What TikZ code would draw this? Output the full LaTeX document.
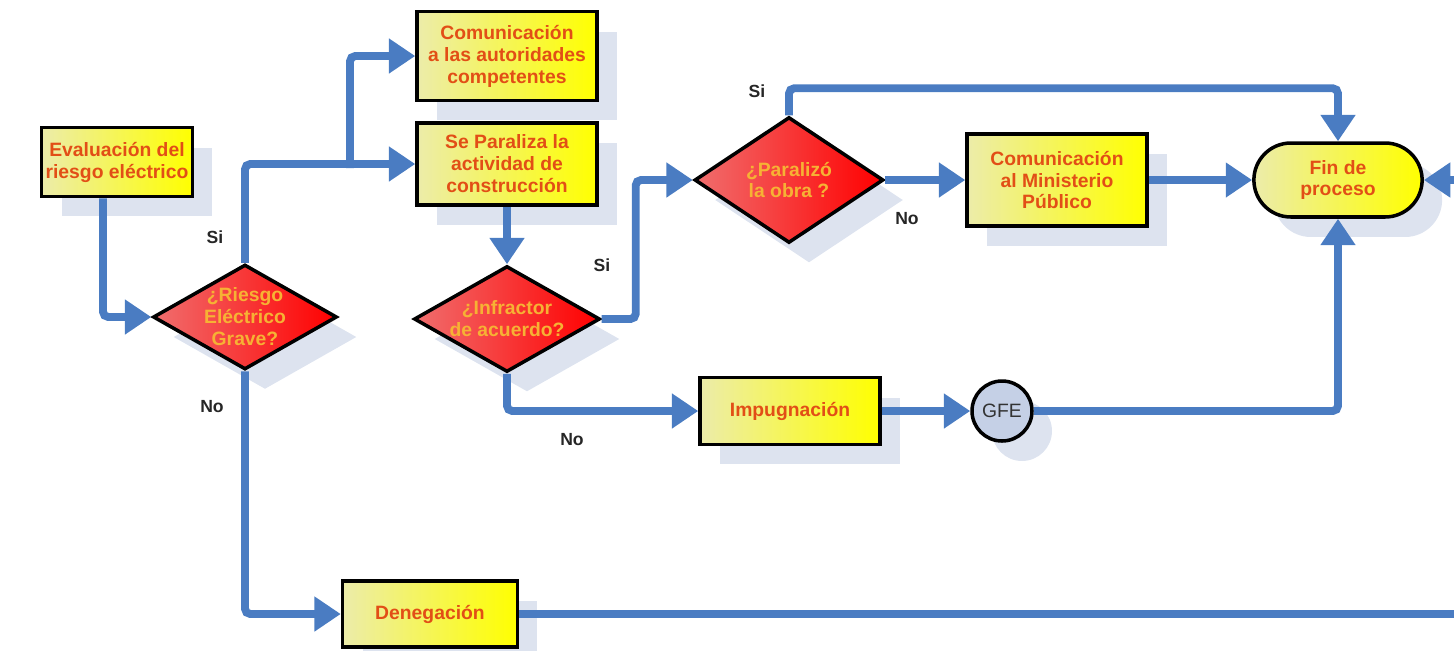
\documentclass[tikz,border=0pt]{standalone}
\usepackage{fontspec}
\setmainfont{Liberation Sans}
\usetikzlibrary{arrows.meta,positioning,calc,shapes.geometric,shapes.misc,shadows}

\definecolor{flowc}{RGB}{74,124,194}
\definecolor{shadowc}{RGB}{221,227,239}
\definecolor{boxtxt}{RGB}{226,78,22}
\definecolor{dtxt}{RGB}{246,178,52}
\definecolor{boxlt}{RGB}{236,236,170}
\definecolor{redlt}{RGB}{240,110,110}
\definecolor{gfec}{RGB}{197,208,230}

\tikzset{
  shadowed/.style={drop shadow={shadow xshift=0.4cm,shadow yshift=-0.4cm,fill=shadowc,opacity=1}},
  procbox/.style={rectangle,draw=black,line width=2pt,left color=boxlt,right color=yellow,
    text=boxtxt,font=\bfseries\fontsize{11}{12.5}\selectfont,align=center,inner sep=1pt,shadowed},
  decision/.style={diamond,draw=black,line width=2pt,left color=redlt,right color=red,
    inner sep=0pt,shadowed},
  dtext/.style={text=dtxt,font=\bfseries\fontsize{11}{12.5}\selectfont,align=center},
  endbox/.style={rounded rectangle,draw=black,line width=2pt,left color=boxlt,right color=yellow,
    text=boxtxt,font=\bfseries\fontsize{11}{12.5}\selectfont,align=center,shadowed},
  connector/.style={circle,draw=black,line width=2pt,fill=gfec,text=black!80,
    font=\fontsize{11}{12}\selectfont,inner sep=0pt,minimum size=1.2cm,shadowed},
  flow/.style={draw=flowc,line width=4.5pt,rounded corners=3pt,-{Triangle[length=15pt,width=19pt]}},
  flowline/.style={draw=flowc,line width=4.5pt,rounded corners=3pt},
  answer/.style={font=\bfseries\fontsize{10}{12}\selectfont,text=black!85}
}

\begin{document}
\begin{tikzpicture}[x=0.02cm,y=-0.02cm]
\useasboundingbox (0,0) rectangle (1454,650);
% process boxes
\node[procbox,minimum width=3.02cm,minimum height=1.38cm] (eval) at (117,162) {Evaluación del\\riesgo eléctrico};
\node[procbox,minimum width=3.6cm,minimum height=1.78cm] (com) at (507,56) {Comunicación\\a las autoridades\\competentes};
\node[procbox,minimum width=3.6cm,minimum height=1.64cm] (par) at (507,164) {Se Paraliza la\\actividad de\\construcción};
\node[procbox,minimum width=3.6cm,minimum height=1.84cm] (min) at (1057,180) {Comunicación\\al Ministerio\\Público};
\node[procbox,minimum width=3.6cm,minimum height=1.34cm] (imp) at (790,411) {Impugnación};
\node[procbox,minimum width=3.5cm,minimum height=1.32cm] (den) at (430,614) {Denegación};
% decisions
\node[decision,minimum width=3.68cm,minimum height=2.1cm,
  label={[dtext]center:¿Riesgo\\Eléctrico\\Grave?}] (d1) at (245,317) {};
\node[decision,minimum width=3.72cm,minimum height=2.12cm,
  label={[dtext]center:¿Infractor\\de acuerdo?}] (d2) at (507,319) {};
\node[decision,minimum width=3.78cm,minimum height=2.52cm,
  label={[dtext]center:¿Paralizó\\la obra ?}] (d3) at (789,180) {};
% end and connector
\node[endbox,minimum width=3.6cm,minimum height=1.48cm] (fin) at (1338,180) {Fin de\\proceso};
\node[connector] (gfe) at (1002,411) {GFE};
% free ends at the right border
\coordinate (rin) at (1470,180);
\coordinate (rout) at (1470,614);
\coordinate (br) at (350,168);
% flows
\draw[flow] ($(eval.south)+(-14,0)$) |- (d1.west);
\draw[flow] (d1.north) |- (par.west);
\draw[flow] (br) |- (com.west);
\draw[flow] (d1.south) |- (den.west);
\draw[flow] (par.south) -- (d2.north);
\draw[flow] (d2.east) -- ++(34,0) |- (d3.west);
\draw[flow] (d2.south) |- (imp.west);
\draw[flow] (imp.east) -- (gfe.west);
\draw[flow] (gfe.east) -| (fin.south);
\draw[flow] (d3.north) -- ++(0,-27) -| (fin.north);
\draw[flow] (d3.east) -- (min.west);
\draw[flow] (min.east) -- (fin.west);
\draw[flow] (rin) -- (fin.east);
\draw[flowline] (den.east) -- (rout);
% answers
\node[answer] (s1) at (215,237) {Si};
\node[answer] (n1) at (212,407) {No};
\node[answer] (s2) at (602,265) {Si};
\node[answer] (n2) at (572,440) {No};
\node[answer] (s3) at (757,91) {Si};
\node[answer] (n3) at (907,219) {No};
\end{tikzpicture}
\end{document}
